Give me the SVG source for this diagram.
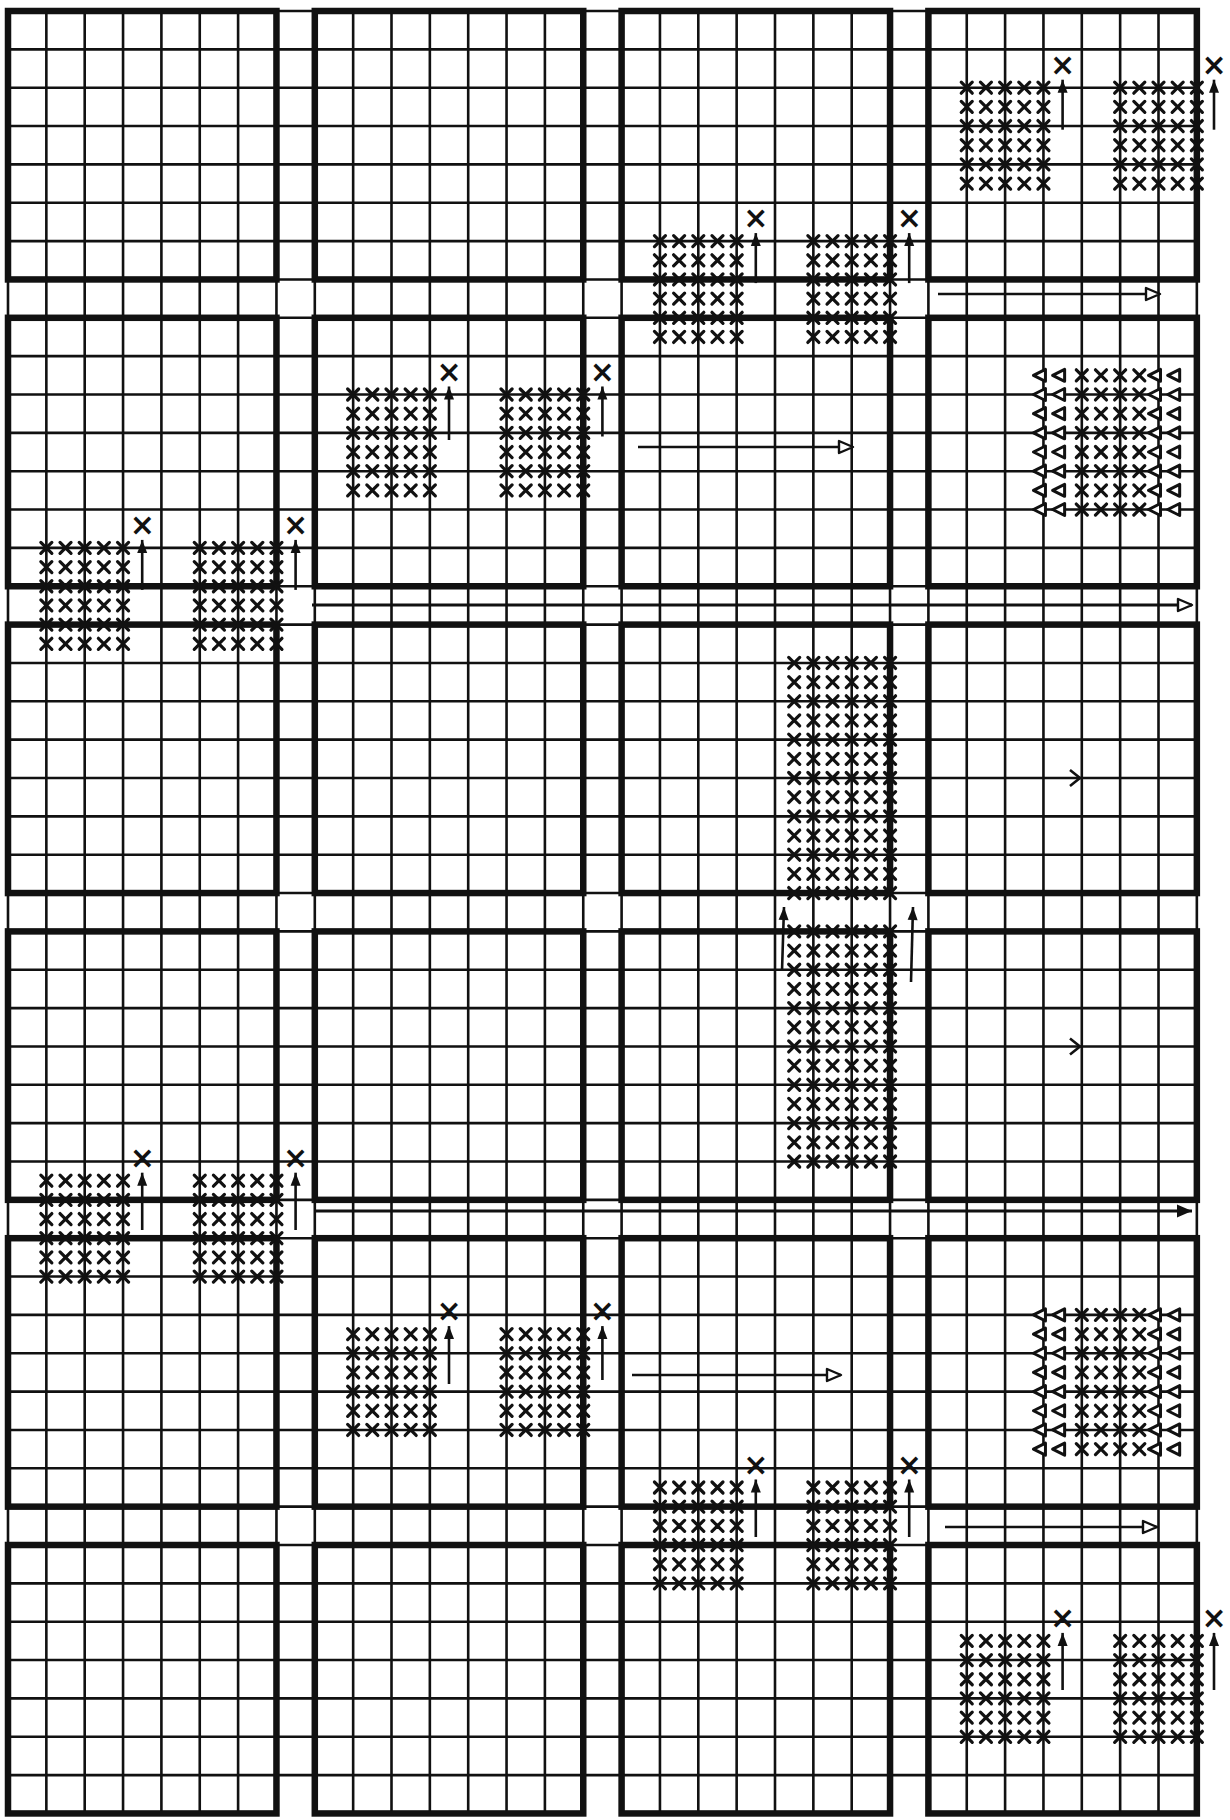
<svg xmlns="http://www.w3.org/2000/svg" width="1230" height="1820" viewBox="0 0 1230 1820">
<style>
.grid{fill:none;stroke:#111;stroke-width:2.6}
.box{fill:none;stroke:#111;stroke-width:6.5}
.arr{fill:none;stroke:#111;stroke-width:2.6}
.lng{fill:none;stroke:#111;stroke-width:3.2}
.lbl{font-family:"DejaVu Sans",sans-serif;font-weight:bold;font-size:30px;fill:#111;text-anchor:middle}
</style>
<defs>
<path id="x" d="M-5.5-5.5L5.5 5.5M5.5-5.5L-5.5 5.5" fill="none" stroke="#111" stroke-width="3.2" stroke-linecap="round"/>
<path id="t" d="M-10 0L2-6V6Z" fill="#fff" stroke="#111" stroke-width="3" stroke-linejoin="round"/>
<g id="r5"><use href="#x"/><use href="#x" x="19.175"/><use href="#x" x="38.35"/><use href="#x" x="57.525"/><use href="#x" x="76.7"/></g>
<g id="cl"><use href="#r5"/><use href="#r5" y="19.175"/><use href="#r5" y="38.35"/><use href="#r5" y="57.525"/><use href="#r5" y="76.7"/><use href="#r5" y="95.875"/></g>
<g id="r6"><use href="#x"/><use href="#x" x="19.175"/><use href="#x" x="38.35"/><use href="#x" x="57.525"/><use href="#x" x="76.7"/><use href="#x" x="95.875"/></g>
<g id="blk"><use href="#r6"/><use href="#r6" y="19.175"/><use href="#r6" y="38.35"/><use href="#r6" y="57.525"/><use href="#r6" y="76.7"/><use href="#r6" y="95.875"/><use href="#r6" y="115.05"/><use href="#r6" y="134.225"/><use href="#r6" y="153.4"/><use href="#r6" y="172.575"/><use href="#r6" y="191.75"/><use href="#r6" y="210.925"/><use href="#r6" y="230.1"/></g>
<g id="rt"><use href="#t"/><use href="#t" x="19.175"/><use href="#x" x="38.35"/><use href="#x" x="57.525"/><use href="#x" x="76.7"/><use href="#x" x="95.875"/><use href="#t" x="115.05"/><use href="#t" x="134.225"/></g>
<g id="tb"><use href="#rt"/><use href="#rt" y="19.175"/><use href="#rt" y="38.35"/><use href="#rt" y="57.525"/><use href="#rt" y="76.7"/><use href="#rt" y="95.875"/><use href="#rt" y="115.05"/><use href="#rt" y="134.225"/></g>
<marker id="ah" markerUnits="userSpaceOnUse" viewBox="-14 -6 15 12" refX="0" refY="0" markerWidth="15" markerHeight="12" orient="auto"><path d="M0 0L-13-5V5Z" fill="#111"/></marker>
<marker id="ahb" markerUnits="userSpaceOnUse" viewBox="-17 -8 18 16" refX="0" refY="0" markerWidth="18" markerHeight="16" orient="auto"><path d="M0 0L-15-6.5V6.5Z" fill="#111"/></marker>
<marker id="ao" markerUnits="userSpaceOnUse" viewBox="-17 -8 19 16" refX="0" refY="0" markerWidth="19" markerHeight="16" orient="auto"><path d="M0 0L-14-6V6Z" fill="#fff" stroke="#111" stroke-width="2.4" stroke-linejoin="round"/></marker>
</defs>
<rect width="1230" height="1820" fill="#fff"/>
<g id="grid">
<path class="grid" d="M8 11v1802.45m38.35-1802.45v1802.45m38.35-1802.45v1802.45m38.35-1802.45v1802.45m38.35-1802.45v1802.45m38.35-1802.45v1802.45m38.35-1802.45v1802.45m38.35-1802.45v1802.45m38.35-1802.45v1802.45m38.35-1802.45v1802.45m38.35-1802.45v1802.45m38.35-1802.45v1802.45m38.35-1802.45v1802.45m38.35-1802.45v1802.45m38.35-1802.45v1802.45m38.35-1802.45v1802.45m38.35-1802.45v1802.45m38.35-1802.45v1802.45m38.35-1802.45v1802.45m38.35-1802.45v1802.45m38.35-1802.45v1802.45m38.35-1802.45v1802.45m38.35-1802.45v1802.45m38.35-1802.45v1802.45m38.35-1802.45v1802.45m38.35-1802.45v1802.45m38.35-1802.45v1802.45m38.35-1802.45v1802.45m38.35-1802.45v1802.45m38.35-1802.45v1802.45m38.35-1802.45v1802.45m38.35-1802.45v1802.45"/>
<path class="grid" d="M8 11h1188.85m-1188.85 38.35h1188.85m-1188.85 38.35h1188.85m-1188.85 38.35h1188.85m-1188.85 38.35h1188.85m-1188.85 38.35h1188.85m-1188.85 38.35h1188.85m-1188.85 38.35h1188.85m-1188.85 38.35h1188.85m-1188.85 38.35h1188.85m-1188.85 38.35h1188.85m-1188.85 38.35h1188.85m-1188.85 38.35h1188.85m-1188.85 38.35h1188.85m-1188.85 38.35h1188.85m-1188.85 38.35h1188.85m-1188.85 38.35h1188.85m-1188.85 38.35h1188.85m-1188.85 38.35h1188.85m-1188.85 38.35h1188.85m-1188.85 38.35h1188.85m-1188.85 38.35h1188.85m-1188.85 38.35h1188.85m-1188.85 38.35h1188.85m-1188.85 38.35h1188.85m-1188.85 38.35h1188.85m-1188.85 38.35h1188.85m-1188.85 38.35h1188.85m-1188.85 38.35h1188.85m-1188.85 38.35h1188.85m-1188.85 38.35h1188.85m-1188.85 38.35h1188.85m-1188.85 38.35h1188.85m-1188.85 38.35h1188.85m-1188.85 38.35h1188.85m-1188.85 38.35h1188.85m-1188.85 38.35h1188.85m-1188.85 38.35h1188.85m-1188.85 38.35h1188.85m-1188.85 38.35h1188.85m-1188.85 38.35h1188.85m-1188.85 38.35h1188.85m-1188.85 38.35h1188.85m-1188.85 38.35h1188.85m-1188.85 38.35h1188.85m-1188.85 38.35h1188.85m-1188.85 38.35h1188.85"/>
</g>
<g id="box-r1c1"><rect class="box" x="8" y="11" width="268.45" height="268.45"/></g>
<g id="box-r1c2"><rect class="box" x="314.8" y="11" width="268.45" height="268.45"/></g>
<g id="box-r1c3"><rect class="box" x="621.6" y="11" width="268.45" height="268.45"/>
<use href="#cl" x="659.95" y="241.1"/><use href="#cl" x="813.35" y="241.1"/></g>
<g id="box-r1c4"><rect class="box" x="928.4" y="11" width="268.45" height="268.45"/>
<use href="#cl" x="966.75" y="87.7"/><use href="#cl" x="1120.15" y="87.7"/></g>
<g id="box-r2c1"><rect class="box" x="8" y="317.8" width="268.45" height="268.45"/>
<use href="#cl" x="46.35" y="547.9"/><use href="#cl" x="199.75" y="547.9"/></g>
<g id="box-r2c2"><rect class="box" x="314.8" y="317.8" width="268.45" height="268.45"/>
<use href="#cl" x="353.15" y="394.5"/><use href="#cl" x="506.55" y="394.5"/></g>
<g id="box-r2c3"><rect class="box" x="621.6" y="317.8" width="268.45" height="268.45"/></g>
<g id="box-r2c4"><rect class="box" x="928.4" y="317.8" width="268.45" height="268.45"/>
<use href="#tb" x="1043.45" y="375.3"/></g>
<g id="box-r3c1"><rect class="box" x="8" y="624.6" width="268.45" height="268.45"/></g>
<g id="box-r3c2"><rect class="box" x="314.8" y="624.6" width="268.45" height="268.45"/></g>
<g id="box-r3c3"><rect class="box" x="621.6" y="624.6" width="268.45" height="268.45"/>
<use href="#blk" x="794.2" y="662.95"/></g>
<g id="box-r3c4"><rect class="box" x="928.4" y="624.6" width="268.45" height="268.45"/></g>
<g id="box-r4c1"><rect class="box" x="8" y="931.4" width="268.45" height="268.45"/></g>
<g id="box-r4c2"><rect class="box" x="314.8" y="931.4" width="268.45" height="268.45"/></g>
<g id="box-r4c3"><rect class="box" x="621.6" y="931.4" width="268.45" height="268.45"/>
<use href="#blk" x="794.2" y="931.4"/></g>
<g id="box-r4c4"><rect class="box" x="928.4" y="931.4" width="268.45" height="268.45"/></g>
<g id="box-r5c1"><rect class="box" x="8" y="1238.2" width="268.45" height="268.45"/>
<use href="#cl" x="46.35" y="1180.7"/><use href="#cl" x="199.75" y="1180.7"/></g>
<g id="box-r5c2"><rect class="box" x="314.8" y="1238.2" width="268.45" height="268.45"/>
<use href="#cl" x="353.15" y="1334.1"/><use href="#cl" x="506.55" y="1334.1"/></g>
<g id="box-r5c3"><rect class="box" x="621.6" y="1238.2" width="268.45" height="268.45"/></g>
<g id="box-r5c4"><rect class="box" x="928.4" y="1238.2" width="268.45" height="268.45"/>
<use href="#tb" x="1043.45" y="1314.9"/></g>
<g id="box-r6c1"><rect class="box" x="8" y="1545" width="268.45" height="268.45"/></g>
<g id="box-r6c2"><rect class="box" x="314.8" y="1545" width="268.45" height="268.45"/></g>
<g id="box-r6c3"><rect class="box" x="621.6" y="1545" width="268.45" height="268.45"/>
<use href="#cl" x="659.95" y="1487.5"/><use href="#cl" x="813.35" y="1487.5"/></g>
<g id="box-r6c4"><rect class="box" x="928.4" y="1545" width="268.45" height="268.45"/>
<use href="#cl" x="966.75" y="1640.9"/><use href="#cl" x="1120.15" y="1640.9"/></g>
<g id="connectors">
<path class="arr" d="M1062.6 129.7V79.7" marker-end="url(#ah)"/>
<path class="arr" d="M1214 129.7V79.7" marker-end="url(#ah)"/>
<path class="arr" d="M755.8 283.1V233.1" marker-end="url(#ah)"/>
<path class="arr" d="M909.2 283.1V233.1" marker-end="url(#ah)"/>
<path class="arr" d="M142.2 589.9V539.9" marker-end="url(#ah)"/>
<path class="arr" d="M295.6 589.9V539.9" marker-end="url(#ah)"/>
<path class="arr" d="M449 440V386.5" marker-end="url(#ah)"/>
<path class="arr" d="M602.4 436.5V386.5" marker-end="url(#ah)"/>
<path class="arr" d="M1062.6 1690V1632.9" marker-end="url(#ah)"/>
<path class="arr" d="M1214 1690V1632.9" marker-end="url(#ah)"/>
<path class="arr" d="M755.8 1537V1479.5" marker-end="url(#ah)"/>
<path class="arr" d="M909.2 1537V1479.5" marker-end="url(#ah)"/>
<path class="arr" d="M142.2 1230V1172.7" marker-end="url(#ah)"/>
<path class="arr" d="M295.6 1230V1172.7" marker-end="url(#ah)"/>
<path class="arr" d="M449 1384V1326.1" marker-end="url(#ah)"/>
<path class="arr" d="M602.4 1380V1326.1" marker-end="url(#ah)"/>
<path class="arr" d="M782 971L784 907" marker-end="url(#ah)"/>
<path class="arr" d="M911 982L913 907" marker-end="url(#ah)"/>
<text class="lbl" x="1062.6" y="74.7">×</text>
<text class="lbl" x="1214" y="74.7">×</text>
<text class="lbl" x="755.8" y="228.1">×</text>
<text class="lbl" x="909.2" y="228.1">×</text>
<text class="lbl" x="142.2" y="534.9">×</text>
<text class="lbl" x="295.6" y="534.9">×</text>
<text class="lbl" x="449" y="381.5">×</text>
<text class="lbl" x="602.4" y="381.5">×</text>
<text class="lbl" x="1062.6" y="1627.9">×</text>
<text class="lbl" x="1214" y="1627.9">×</text>
<text class="lbl" x="755.8" y="1474.5">×</text>
<text class="lbl" x="909.2" y="1474.5">×</text>
<text class="lbl" x="142.2" y="1167.7">×</text>
<text class="lbl" x="295.6" y="1167.7">×</text>
<text class="lbl" x="449" y="1321.1">×</text>
<text class="lbl" x="602.4" y="1321.1">×</text>
<path class="arr" d="M938 294H1160" marker-end="url(#ao)"/>
<path class="arr" d="M945 1527H1157" marker-end="url(#ao)"/>
<path class="arr" d="M638 447H853" marker-end="url(#ao)"/>
<path class="arr" d="M632 1375H841" marker-end="url(#ao)"/>
<path class="lng" d="M312 605H1192" marker-end="url(#ao)"/>
<path class="lng" d="M316 1211H1192" marker-end="url(#ahb)"/>
<path class="arr" stroke-width="3" d="M1070 770L1080 778L1070 786"/>
<path class="arr" stroke-width="3" d="M1070 1038.5L1080 1046.5L1070 1054.5"/>
</g>
</svg>
